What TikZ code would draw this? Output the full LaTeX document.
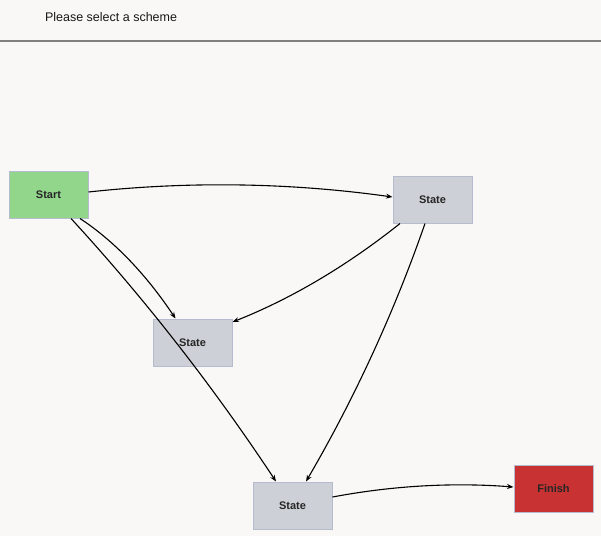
\documentclass[tikz,border=0pt]{standalone}
\usepackage{fontspec}
\setmainfont{Liberation Sans}
\usetikzlibrary{arrows.meta}
\definecolor{bgc}{HTML}{F9F8F7}
\definecolor{startc}{HTML}{92D68C}
\definecolor{statec}{HTML}{CDD0D6}
\definecolor{finishc}{HTML}{C83232}
\definecolor{bordc}{HTML}{B4BCCE}
\tikzset{
  box/.style={draw=bordc, line width=1pt, minimum width=79pt, minimum height=47pt, inner sep=0pt, font=\fontsize{11}{13}\selectfont\bfseries, text=black!85},
  startbox/.style={box, fill=startc},
  statebox/.style={box, fill=statec},
  finishbox/.style={box, fill=finishc},
  conn/.style={line width=1.1pt, -{Stealth[length=6.5pt,width=5pt]}},
}
\begin{document}
\begin{tikzpicture}[x=1pt,y=-1pt]
\fill[bgc] (0,0) rectangle (601,536);
\useasboundingbox (0,0) rectangle (601,536);
\node[anchor=west, font=\fontsize{12.5}{14}\selectfont, text=black!90] (title) at (41.5,17) {Please select a scheme};
\coordinate (hl) at (0,41);
\coordinate (hr) at (601,41);
\draw[gray, line width=1.2pt] (hl) -- (hr);

\node[startbox] (start) at (48.5,194.5) {Start};
\node[statebox] (s1) at (432.5,199.5) {State};
\node[statebox] (s2) at (192.5,342.5) {State};
\node[statebox] (s3) at (292.5,505.5) {State};
\node[finishbox] (fin) at (553.5,488.5) {Finish};

\draw[conn] (start.east |- 0,192) .. controls (189,181) and (290.7,182.7) .. (s1.west |- 0,197);
\draw[conn] ([xshift=31.5pt]start.south) .. controls (114.3,241) and (146.3,274.7) .. ([xshift=-17pt]s2.north);
\draw[conn] ([xshift=22.5pt]start.south) .. controls (145.3,299.3) and (213.7,387.3) .. ([xshift=-16.5pt]s3.north);
\draw[conn] ([xshift=-32.5pt]s1.south) .. controls (346.7,266) and (290.7,299) .. (s2.east |- 0,322);
\draw[conn] ([xshift=-7.5pt]s1.south) .. controls (394,312.7) and (354.3,398.7) .. ([xshift=13.5pt]s3.north);
\draw[conn] (s3.east |- 0,497) .. controls (392.3,485.7) and (452.9,482.3) .. (fin.west |- 0,487);
\end{tikzpicture}
\end{document}
